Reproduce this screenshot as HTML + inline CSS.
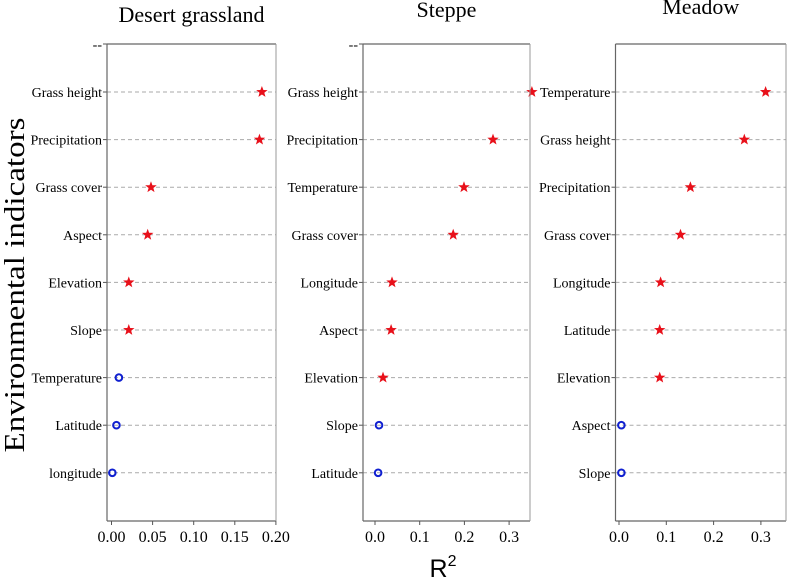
<!DOCTYPE html>
<html><head><meta charset="utf-8"><style>
body{margin:0;background:#fff;}
svg{display:block;font-family:"Liberation Serif",serif;}
</style></head><body>
<svg id="c" width="787" height="578" viewBox="0 0 787 578">
<text x="15" y="285" transform="rotate(-90 15 285)" text-anchor="middle" dominant-baseline="central" font-size="29" textLength="335" lengthAdjust="spacingAndGlyphs">Environmental indicators</text>
<text x="443" y="577" text-anchor="middle" font-family="Liberation Sans, sans-serif" font-size="25">R<tspan font-size="16" dy="-11">2</tspan></text>
</svg>
<script>
const titles=["Desert grassland","Steppe","Meadow"];
const cats1=["Grass height","Precipitation","Grass cover","Aspect","Elevation","Slope","Temperature","Latitude","longitude"];
const vals1=[0.183,0.180,0.048,0.044,0.021,0.021,0.009,0.006,0.001];
const sig1=[1,1,1,1,1,1,0,0,0];
const cats2=["Grass height","Precipitation","Temperature","Grass cover","Longitude","Aspect","Elevation","Slope","Latitude"];
const vals2=[0.351,0.264,0.199,0.175,0.038,0.036,0.018,0.009,0.007];
const sig2=[1,1,1,1,1,1,1,0,0];
const cats3=["Temperature","Grass height","Precipitation","Grass cover","Longitude","Latitude","Elevation","Aspect","Slope"];
const vals3=[0.310,0.265,0.151,0.130,0.088,0.086,0.086,0.005,0.005];
const sig3=[1,1,1,1,1,1,1,0,0];
const ticks1=["0.00","0.05","0.10","0.15","0.20"];
const ticks2=["0.0","0.1","0.2","0.3"];
const ticks3=["0.0","0.1","0.2","0.3"];
const panels=[
 {l:107,r:276,x0:111.5,k:822,ty:22,cats:cats1,vals:vals1,sig:sig1,ticks:ticks1},
 {l:363,r:530,x0:375,k:447,ty:17,cats:cats2,vals:vals2,sig:sig2,ticks:ticks2},
 {l:615.5,r:786,x0:619,k:473,ty:14,cats:cats3,vals:vals3,sig:sig3,ticks:ticks3}];
const svg=document.getElementById('c');
const NS="http://www.w3.org/2000/svg";
function mk(t,a,p){const e=document.createElementNS(NS,t);for(const k in a)e.setAttribute(k,a[k]);(p||svg).appendChild(e);return e;}
const topY=44,botY=521;
function yOf(i){return 92+i*47.6;}
function star(cx,cy,r){let p=[];for(let i=0;i<10;i++){const rr=i%2?r*0.42:r;const a=-Math.PI/2+i*Math.PI/5;p.push((cx+rr*Math.cos(a)).toFixed(1)+","+(cy+rr*Math.sin(a)).toFixed(1));}return p.join(" ");}
panels.forEach((P,pi)=>{
 const g=mk('g',{});
 
 
 const xs=v=>P.x0+v*P.k;
 const t=mk('text',{x:(P.l+P.r)/2,y:P.ty,'text-anchor':'middle','font-size':22},g);t.textContent=titles[pi];
 
 
 P.cats.forEach((c,i)=>{
  const y=yOf(i);
  const gl=mk('line',{x1:P.l,x2:P.r,y1:y,y2:y,stroke:'#aaa','stroke-dasharray':'4,3','stroke-width':1},g);
  
  
  mk('line',{x1:P.l-4,x2:P.l,y1:y,y2:y,stroke:'#555'},g);
  const lt=mk('text',{x:P.l-5,y:y+5,'text-anchor':'end','font-size':14},g);lt.textContent=c;
  
  
  const x=xs(P.vals[i]);
  let m;
  if(P.sig[i]){m=mk('polygon',{points:star(x,y,6),fill:'#e8101a'},g);}
  else{m=mk('circle',{cx:x,cy:y,r:3.3,fill:'none',stroke:'#1020d0','stroke-width':2},g);}
  
  
 });
 if(pi<2){const d=mk('text',{x:P.l-5,y:topY+5,'text-anchor':'end','font-size':14},g);d.textContent='--';
  
  
  mk('line',{x1:P.l-4,x2:P.l,y1:topY,y2:topY,stroke:'#555'},g);}
 mk('line',{x1:P.l,x2:P.r,y1:topY,y2:topY,stroke:'#666','stroke-width':1.2},g);
 mk('line',{x1:P.l,x2:P.r,y1:botY,y2:botY,stroke:'#666','stroke-width':1.2},g);
 mk('line',{x1:P.l,x2:P.l,y1:topY,y2:botY,stroke:'#666','stroke-width':1.2},g);
 mk('line',{x1:P.r,x2:P.r,y1:topY,y2:botY,stroke:'#999','stroke-width':1},g);
 P.ticks.forEach(tl=>{
  const x=xs(parseFloat(tl));
  mk('line',{x1:x,x2:x,y1:botY,y2:botY+4,stroke:'#555'},g);
  const tt=mk('text',{x:x,y:botY+21,'text-anchor':'middle','font-size':16},g);tt.textContent=tl;
  
  
 });
});
</script>
</body></html>
